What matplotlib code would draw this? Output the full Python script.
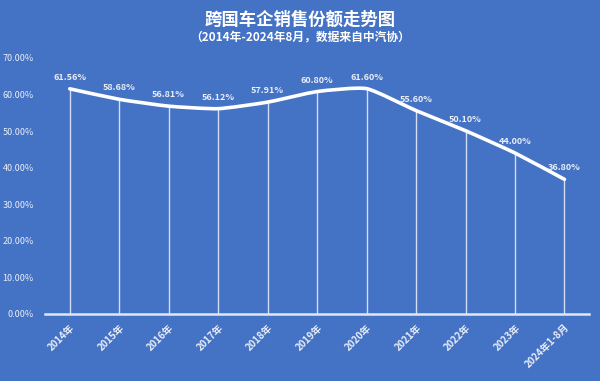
import numpy as np
import matplotlib
matplotlib.use("Agg")
import matplotlib.pyplot as plt
from matplotlib.path import Path
from matplotlib.patches import PathPatch

plt.rcParams['font.family'] = ['Noto Sans CJK SC', 'DejaVu Sans']

years = ["2014年", "2015年", "2016年", "2017年", "2018年", "2019年",
         "2020年", "2021年", "2022年", "2023年", "2024年1-8月"]
share = [61.56, 58.68, 56.81, 56.12, 57.91, 60.80, 61.60, 55.60, 50.10, 44.00, 36.80]
labels = ["61.56%", "58.68%", "56.81%", "56.12%", "57.91%", "60.80%",
          "61.60%", "55.60%", "50.10%", "44.00%", "36.80%"]

bg = "#4472c4"
txt = "#e9eef8"

fig = plt.figure(figsize=(6, 3.81), dpi=100, facecolor=bg)
ax = fig.add_axes([0.075, 0.176, 0.907, 0.672], facecolor=bg)

x = np.arange(len(share))
y = np.array(share)

# smoothed line, softer than plain catmull-rom
k = 0.09
verts = [(x[0], y[0])]
codes = [Path.MOVETO]
for i in range(len(x) - 1):
    p0 = np.array([x[max(i - 1, 0)], y[max(i - 1, 0)]])
    p1 = np.array([x[i], y[i]])
    p2 = np.array([x[i + 1], y[i + 1]])
    p3 = np.array([x[min(i + 2, len(x) - 1)], y[min(i + 2, len(x) - 1)]])
    c1 = p1 + (p2 - p0) * k
    c2 = p2 - (p3 - p1) * k
    verts += [tuple(c1), tuple(c2), tuple(p2)]
    codes += [Path.CURVE4] * 3
ax.add_patch(PathPatch(Path(verts, codes), fill=False, edgecolor="white",
                       lw=2.6, capstyle="round", zorder=3))

# drop lines
ax.vlines(x, 0, y, colors="#d5dff3", lw=1.0, zorder=2)

for xi, yi, lab in zip(x, y, labels):
    ax.annotate(lab, (xi, yi), xytext=(0, 5), textcoords="offset points",
                ha="center", va="bottom", color=txt, fontsize=6.5, fontweight="bold")

ax.set_xlim(-0.5, len(x) - 0.5)
ax.set_ylim(0, 70)
ax.set_yticks(np.arange(0, 71, 10))
ax.set_yticklabels([f"{v:.2f}%" for v in np.arange(0, 71, 10)], color=txt, fontsize=6.5)
ax.set_xticks(x)
ax.set_xticklabels(years, rotation=45, ha="right", rotation_mode="anchor",
                   color=txt, fontsize=7, fontweight="bold")
ax.tick_params(length=0, pad=8)
ax.tick_params(axis="x", pad=6)
for s in ["top", "right", "left"]:
    ax.spines[s].set_visible(False)
ax.spines["bottom"].set_color("#dfe7f6")
ax.spines["bottom"].set_linewidth(1.8)

fig.text(0.5, 0.949, "跨国车企销售份额走势图", ha="center", va="center",
         color="white", fontsize=12.5, fontweight="bold")
fig.text(0.5, 0.902, "（2014年-2024年8月，数据来自中汽协）", ha="center", va="center",
         color="white", fontsize=8.5, fontweight="bold")

fig.savefig("out.png", dpi=100, facecolor=bg)
